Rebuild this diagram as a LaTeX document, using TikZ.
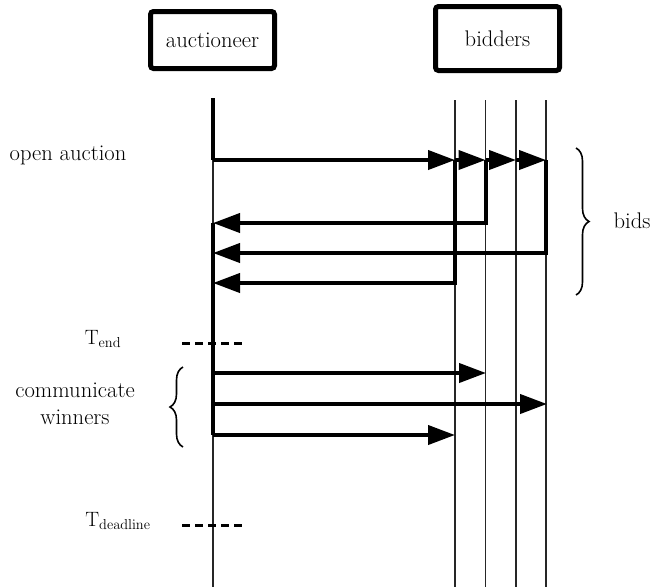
\documentclass[tikz,border=0pt]{standalone}
\usetikzlibrary{arrows.meta,decorations.pathreplacing}
\begin{document}
\begin{tikzpicture}[x=1pt,y=-1pt,
  every node/.style={font=\fontsize{22.6}{26.5}\selectfont},
  actorbox/.style={draw,line width=5pt,rounded corners=3pt,inner sep=0pt},
  lifeline/.style={line width=1.1pt,black!85},
  active/.style={line width=4pt},
  msg/.style={line width=4pt,-{Triangle[length=27pt,width=19pt]}},
  timemark/.style={line width=3pt,dash pattern=on 8pt off 5pt},
  bracestyle/.style={line width=1.6pt,decorate,decoration={brace,amplitude=13pt}}]
\useasboundingbox (0,0) rectangle (652,587);
% actor boxes
\node[actorbox,minimum width=124pt,minimum height=57pt] (auc) at (212.5,40) {auctioneer};
\node[actorbox,minimum width=124pt,minimum height=64pt] (bid) at (497.5,38.5) {bidders};
% lifeline coordinates
\coordinate (at) at (213,98);
\coordinate (ab) at (213,587);
\foreach \i/\x in {1/455,2/485.5,3/516,4/546}{
  \coordinate (bt\i) at (\x,100);
  \coordinate (bb\i) at (\x,587);
  \coordinate (bo\i) at (\x,160);
}
\draw[lifeline] (at) -- (ab);
\foreach \i in {1,2,3,4}{\draw[lifeline] (bt\i) -- (bb\i);}
% activation segments
\coordinate (ao) at (213,160);
\coordinate (ar1) at (213,223);
\coordinate (ar2) at (213,253);
\coordinate (ar3) at (213,283);
\coordinate (aw1) at (213,373);
\coordinate (aw2) at (213,404);
\coordinate (aw3) at (213,435);
\draw[active] (at) -- (ao);
\draw[active] (ar1) -- (aw3);
% open auction
\draw[msg] (ao) -- (bo1);
\draw[msg] (bo1) -- (bo2);
\draw[msg] (bo2) -- (bo3);
\draw[msg] (bo3) -- (bo4);
% bids
\draw[msg] (bo2) |- (ar1);
\draw[msg] (bo4) |- (ar2);
\draw[msg] (bo1) |- (ar3);
% communicate winners
\coordinate (bw1) at (486,373);
\coordinate (bw2) at (547,404);
\coordinate (bw3) at (455,435);
\draw[msg] (aw1) -- (bw1);
\draw[msg] (aw2) -- (bw2);
\draw[msg] (aw3) -- (bw3);
% time marks
\coordinate (te1) at (182,343);
\coordinate (te2) at (246,343);
\coordinate (td1) at (182,525);
\coordinate (td2) at (246,525);
\draw[timemark] (te1) -- (te2);
\draw[timemark] (td1) -- (td2);
% braces
\coordinate (bbr1) at (576,148);
\coordinate (bbr2) at (576,295);
\draw[bracestyle] (bbr1) -- (bbr2);
\coordinate (cbr1) at (183,447);
\coordinate (cbr2) at (183,367);
\draw[bracestyle] (cbr1) -- (cbr2);
% labels
\node (lopen) at (68,155) {open auction};
\node (lbids) at (632,221) {bids};
\node (lend) at (103,339) {$\mathrm{T}_{\mathrm{end}}$};
\node[align=center] (lwin) at (75,404) {communicate\\winners};
\node (ldl) at (118,521) {$\mathrm{T}_{\mathrm{deadline}}$};
\end{tikzpicture}
\end{document}
